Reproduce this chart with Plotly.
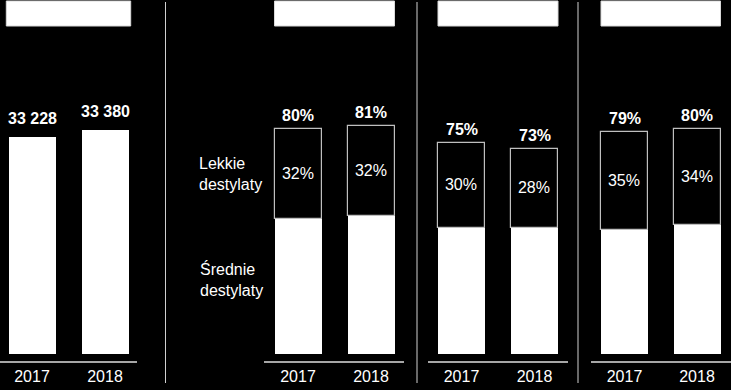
import plotly.graph_objects as go

# ---------------- data ----------------
years = ["2017", "2018"]
panel1_values = [33228, 33380]
# panels 2-4: total share (top label) and "Lekkie destylaty" share
totals = [[80, 81], [75, 73], [79, 80]]
light = [[32, 32], [30, 28], [35, 34]]
label_light = "Lekkie<br>destylaty"
label_middle = "Średnie<br>destylaty"

# ---------------- layout (pixels) ----------------
W, H = 731, 390
FONT = "Liberation Sans, Arial, sans-serif"
FS = 16
axis_px = [(0, 137), (264, 404), (428, 568), (591, 731)]
centres_px = [(32, 105), (298, 371), (461.5, 534.5), (624.5, 697)]
bar_px = 47
bottom_px, top_px = 354, 40
line_px = 362
pct_scale = 2.81          # px per percentage point
p1_base, p1_scale = 28298, 0.04408
separators = [165.5, 417, 578]


def px(x):
    return x / W


def py(y):
    return 1 - y / H


fig = go.Figure()
dom_h = bottom_px - top_px

for i in range(4):
    ax = "" if i == 0 else str(i + 1)
    c0, c1 = centres_px[i]
    unit = c1 - c0
    a0, a1 = axis_px[i]
    rng = [(a0 - c0) / unit, 1 + (a1 - c1) / unit]
    bw = bar_px / unit
    fig.update_layout(**{
        f"xaxis{ax}": dict(domain=[px(a0), px(a1)], range=rng, type="category",
                           anchor="free", position=py(line_px),
                           showline=True, linecolor="#a6a6a6", linewidth=1.5,
                           showgrid=False, zeroline=False, ticks="",
                           tickfont=dict(family=FONT, size=FS, color="white"),
                           fixedrange=True),
    })
    if i == 0:
        yr = [p1_base, p1_base + dom_h / p1_scale]
    else:
        yr = [0, dom_h / pct_scale]
    fig.update_layout(**{
        f"yaxis{ax}": dict(domain=[py(bottom_px), py(top_px)], range=yr,
                           visible=False, anchor="x" + ax, fixedrange=True),
    })

    # header box
    pad = 0.03 if i == 0 else 0
    fig.add_shape(type="rect", xref="x" + ax, yref="paper",
                  x0=-bw / 2 - pad, x1=1 + bw / 2 + pad,
                  y0=py(26), y1=py(1), fillcolor="white",
                  line=dict(color="#d9d9d9", width=1), layer="above")

    if i == 0:
        fig.add_trace(go.Bar(x=years, y=panel1_values, width=bw,
                             marker=dict(color="white", line=dict(width=0)),
                             xaxis="x", yaxis="y", showlegend=False,
                             hoverinfo="skip"))
        for k, v in enumerate(panel1_values):
            fig.add_annotation(x=k, y=v, xref="x", yref="y",
                               text="<b>" + f"{v:,}".replace(",", " ") + "</b>",
                               showarrow=False, yanchor="bottom", yshift=8,
                               font=dict(family=FONT, size=FS, color="white"))
    else:
        t = totals[i - 1]
        l = light[i - 1]
        mid = [a - b for a, b in zip(t, l)]
        fig.add_trace(go.Bar(x=years, y=mid, width=bw,
                             marker=dict(color="white", line=dict(width=0)),
                             xaxis="x" + ax, yaxis="y" + ax, showlegend=False,
                             hoverinfo="skip", name="Średnie destylaty"))
        fig.add_trace(go.Bar(x=years, y=l, base=mid, width=bw,
                             marker=dict(color="black",
                                         line=dict(color="#bfbfbf", width=1.2)),
                             text=[f"{v}%" for v in l], textposition="inside",
                             insidetextanchor="middle", textangle=0,
                             constraintext="none",
                             textfont=dict(family=FONT, size=FS, color="white"),
                             xaxis="x" + ax, yaxis="y" + ax, showlegend=False,
                             hoverinfo="skip", name="Lekkie destylaty"))
        for k, v in enumerate(t):
            fig.add_annotation(x=k, y=v, xref="x" + ax, yref="y" + ax,
                               text=f"<b>{v}%</b>", showarrow=False,
                               yanchor="bottom", yshift=3,
                               font=dict(family=FONT, size=FS, color="white"))

# side labels
fig.add_annotation(x=px(197), y=py(173.5), xref="paper", yref="paper",
                   text=label_light, showarrow=False, xanchor="left",
                   yanchor="middle", align="left",
                   font=dict(family=FONT, size=FS, color="white"))
fig.add_annotation(x=px(198), y=py(279), xref="paper", yref="paper",
                   text=label_middle, showarrow=False, xanchor="left",
                   yanchor="middle", align="left",
                   font=dict(family=FONT, size=FS, color="white"))

for s in separators:
    fig.add_shape(type="line", xref="paper", yref="paper",
                  x0=px(s), x1=px(s), y0=py(2), y1=py(383),
                  line=dict(color="#d0d0d0", width=1))

fig.update_layout(width=W, height=H, margin=dict(l=0, r=0, t=0, b=0),
                  paper_bgcolor="black", plot_bgcolor="black",
                  barmode="overlay", bargap=0, showlegend=False)

fig.write_html("out.html", config={"displayModeBar": False})
